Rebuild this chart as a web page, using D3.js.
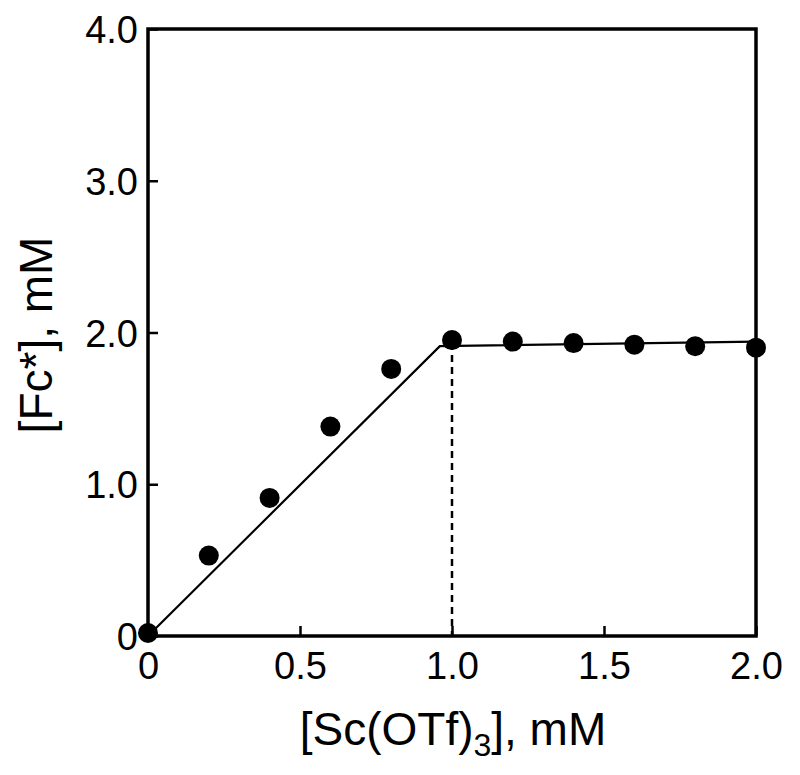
<!DOCTYPE html>
<html><head><meta charset="utf-8">
<script src="https://cdn.jsdelivr.net/npm/d3@7"></script>
<style>body{margin:0;background:#fff}svg{display:block}text{font-family:"Liberation Sans",Arial,Helvetica,sans-serif;fill:#000}</style>
</head><body><svg id="c" width="800" height="775"></svg>
<script>
const xValues = [0, 0.2, 0.4, 0.6, 0.8, 1.0, 1.2, 1.4, 1.6, 1.8, 2.0];
const yValues = [0.02, 0.53, 0.91, 1.38, 1.76, 1.95, 1.94, 1.93, 1.92, 1.91, 1.90];
const fitX = [0, 0.96, 2.0];
const fitY = [0, 1.91, 1.94];
const dashX = 1.0;
const dashTop = 1.93;
const xTicks = [0, 0.5, 1.0, 1.5, 2.0];
const xTickLabels = ["0", "0.5", "1.0", "1.5", "2.0"];
const yTicks = [0, 1, 2, 3, 4];
const yTickLabels = ["0", "1.0", "2.0", "3.0", "4.0"];

const svg = d3.select("#c");
const L = 148, R = 756, T = 29, B = 636;
const x = d3.scaleLinear().domain([0, 2]).range([L, R]);
const y = d3.scaleLinear().domain([0, 4]).range([B, T]);

const xAxis = d3.axisBottom(x).tickValues(xTicks).tickSizeInner(-10).tickSizeOuter(0).tickFormat((d,i)=>xTickLabels[i]).tickPadding(16);
const gx = svg.append("g").attr("transform", `translate(0,${B})`).call(xAxis);
gx.select(".domain").remove();
gx.selectAll("line").attr("stroke", "#000").attr("stroke-width", 2.5);
gx.selectAll("text").style("font-size", "38px").attr("dy", "0.71em");

const yAxis = d3.axisLeft(y).tickValues(yTicks).tickSizeInner(-10).tickSizeOuter(0).tickFormat((d,i)=>yTickLabels[i]).tickPadding(10);
const gy = svg.append("g").attr("transform", `translate(${L},0)`).call(yAxis);
gy.select(".domain").remove();
gy.selectAll("line").attr("stroke", "#000").attr("stroke-width", 2.5);
gy.selectAll("text").style("font-size", "38px").attr("dy", "0.36em");

svg.append("rect").attr("x", L).attr("y", T).attr("width", R - L).attr("height", B - T)
  .attr("fill", "none").attr("stroke", "#000").attr("stroke-width", 3.5);

svg.append("line").attr("x1", x(dashX)).attr("x2", x(dashX)).attr("y1", y(dashTop)).attr("y2", y(0))
  .attr("stroke", "#000").attr("stroke-width", 2.5).attr("stroke-dasharray", "7,5");

const line = d3.line().x(d => x(d[0])).y(d => y(d[1]));
svg.append("path").datum(fitX.map((v,i)=>[v, fitY[i]])).attr("d", line)
  .attr("fill", "none").attr("stroke", "#000").attr("stroke-width", 2.2);

svg.selectAll("circle.pt").data(xValues.map((v,i)=>[v, yValues[i]])).enter().append("circle")
  .attr("cx", d => x(d[0])).attr("cy", d => y(d[1])).attr("r", 10).attr("fill", "#000");

const xt = svg.append("text").attr("x", 453).attr("y", 745).attr("text-anchor", "middle").style("font-size", "46px");
xt.append("tspan").text("[Sc(OTf)");
xt.append("tspan").text("3").style("font-size", "32px").attr("dy", 11);
xt.append("tspan").text("], mM").attr("dy", -11);

svg.append("text").attr("transform", `translate(52,335) rotate(-90)`).attr("text-anchor", "middle")
  .style("font-size", "46px").text("[Fc*], mM");
</script></body></html>
